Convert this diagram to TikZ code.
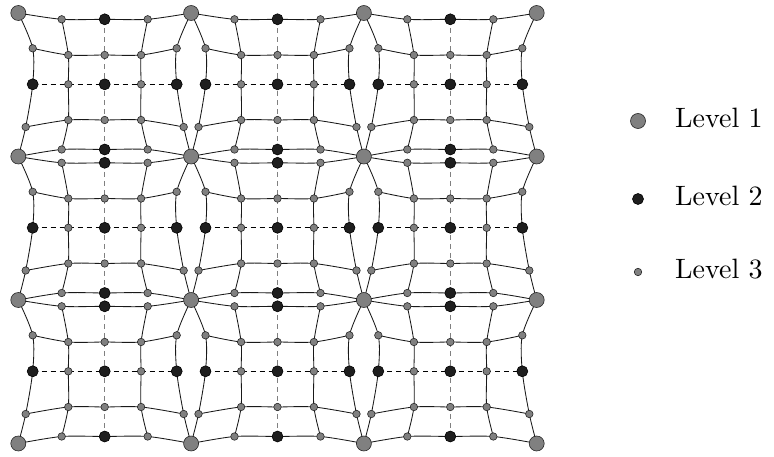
\documentclass[tikz,border=0pt]{standalone}
\usepackage{fontspec}
\usepackage{tikz}
\usetikzlibrary{positioning,backgrounds}

\newfontfamily\keyfont[Extension=.otf]{lmroman10-regular}
\definecolor{levgray}{RGB}{128,128,128}
\definecolor{levblack}{RGB}{30,30,30}

\begin{document}
\begin{tikzpicture}[x=1pt,y=-1pt,
    lvlone/.style={circle,draw=black!85,fill=levgray,line width=0.6pt,inner sep=0pt,minimum size=15pt},
    lvltwo/.style={circle,draw=black,fill=levblack,line width=0.6pt,inner sep=0pt,minimum size=11pt},
    lvlthree/.style={circle,draw=black!85,fill=levgray,line width=0.6pt,inner sep=0pt,minimum size=7.5pt},
    mesh/.style={line width=0.85pt,black!90},
    hdash/.style={line width=0.85pt,black,dash pattern=on 5pt off 4pt},
    vdash/.style={line width=0.85pt,black!50,dash pattern=on 5pt off 4pt},
    keytext/.style={font=\keyfont\fontsize{28}{32}\selectfont,inner sep=0pt}]
    \useasboundingbox (0,0) rectangle (774,457);

    % level 1 corners, shared by the blocks
    \foreach \i in {0,...,3}
      \foreach \j in {0,...,3}
        \node[lvlone] (c-\i-\j) at ({18.3+172.8*\i},{13+143.5*\j}) {};

    % the other nodes of each block
    \foreach \i in {0,1,2}
      \foreach \j in {0,1,2}
        \foreach \r/\c/\dx/\dy/\lv in {
            0/1/43.4/6.3/lvlthree, 0/2/86.4/6.3/lvltwo, 0/3/129.4/6.3/lvlthree,
            1/0/14.4/35.3/lvlthree, 1/1/50/42/lvlthree, 1/2/86.4/42/lvlthree, 1/3/122.8/42/lvlthree, 1/4/158.4/35.3/lvlthree,
            2/0/14.4/71.3/lvltwo, 2/1/50/71.3/lvlthree, 2/2/86.4/71.3/lvltwo, 2/3/122.8/71.3/lvlthree, 2/4/158.4/71.3/lvltwo,
            3/0/7.4/114/lvlthree, 3/1/50/107/lvlthree, 3/2/86.4/107/lvlthree, 3/3/122.8/107/lvlthree, 3/4/165.4/114/lvlthree,
            4/1/43.4/136.5/lvlthree, 4/2/86.4/136.5/lvltwo, 4/3/129.4/136.5/lvlthree}
          \node[\lv] (n-\i-\j-\r-\c) at ({18.3+172.8*\i+\dx},{13+143.5*\j+\dy}) {};

    % mesh lines
    \begin{scope}[on background layer]
    \foreach \i/\ii in {0/1,1/2,2/3}
      \foreach \j/\jj in {0/1,1/2,2/3} {
        \draw[mesh] plot[smooth] coordinates {(c-\i-\j.center) (n-\i-\j-0-1.center) (n-\i-\j-0-2.center) (n-\i-\j-0-3.center) (c-\ii-\j.center)};
        \draw[mesh] plot[smooth] coordinates {(c-\i-\jj.center) (n-\i-\j-4-1.center) (n-\i-\j-4-2.center) (n-\i-\j-4-3.center) (c-\ii-\jj.center)};
        \draw[mesh] plot[smooth] coordinates {(c-\i-\j.center) (n-\i-\j-1-0.center) (n-\i-\j-2-0.center) (n-\i-\j-3-0.center) (c-\i-\jj.center)};
        \draw[mesh] plot[smooth] coordinates {(c-\ii-\j.center) (n-\i-\j-1-4.center) (n-\i-\j-2-4.center) (n-\i-\j-3-4.center) (c-\ii-\jj.center)};
        \foreach \k in {1,3} {
          \draw[mesh] plot[smooth] coordinates {(n-\i-\j-\k-0.center) (n-\i-\j-\k-1.center) (n-\i-\j-\k-2.center) (n-\i-\j-\k-3.center) (n-\i-\j-\k-4.center)};
          \draw[mesh] plot[smooth] coordinates {(n-\i-\j-0-\k.center) (n-\i-\j-1-\k.center) (n-\i-\j-2-\k.center) (n-\i-\j-3-\k.center) (n-\i-\j-4-\k.center)};
        }
        \draw[hdash] (n-\i-\j-2-0.center) -- (n-\i-\j-2-4.center);
        \draw[vdash] (n-\i-\j-0-2.center) -- (n-\i-\j-4-2.center);
      }
    \end{scope}

    % legend
    \node[lvlone] (key1) at (638,121) {};
    \node[lvltwo] (key2) at (638,199) {};
    \node[lvlthree] (key3) at (638,272) {};
    \node[keytext,right=37pt of key1.center,yshift=3pt] (lab1) {Level 1};
    \node[keytext,right=37pt of key2.center,yshift=3pt] (lab2) {Level 2};
    \node[keytext,right=37pt of key3.center,yshift=3pt] (lab3) {Level 3};

\end{tikzpicture}
\end{document}
